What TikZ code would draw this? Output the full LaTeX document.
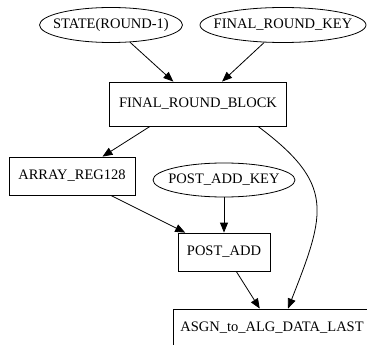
\documentclass[tikz,border=0pt]{standalone}
\usepackage{fontspec}
\setmainfont{Liberation Serif}
\usetikzlibrary{shapes.geometric,arrows.meta}

\begin{document}
\begin{tikzpicture}[x=1pt, y=-1pt, line width=0.8pt,
    >={Triangle[length=10pt, width=8pt]},
    every node/.style={font=\fontsize{14.5}{17}\selectfont, inner sep=0pt},
    oval/.style={draw, ellipse, minimum height=35pt},
    blk/.style={draw, rectangle, minimum height=38pt}]
  % page is cut at the bottom and right, like the reference
  \clip (0,0) rectangle (367,345);

  \node[oval, minimum width=143pt] (state) at (111, 25) {\makebox[0pt]{STATE(ROUND-1)}};
  \node[oval, minimum width=166pt] (frk) at (283, 25) {\makebox[0pt]{FINAL\_ROUND\_KEY}};
  \node[blk, minimum width=177pt, minimum height=44pt] (frb) at (198, 104) {FINAL\_ROUND\_BLOCK};

  \node[blk, minimum width=126pt] (arr) at (72, 176) {ARRAY\_REG128};
  \node[oval, minimum width=142pt, minimum height=34pt] (pak) at (224, 180) {\makebox[0pt]{POST\_ADD\_KEY}};
  \node[blk, minimum width=92pt] (padd) at (224, 252) {POST\_ADD};

  \node[blk, minimum width=198pt] (asgn) at (272, 328) {ASGN\_to\_ALG\_DATA\_LAST};

  \draw[->] (state) -- (frb);
  \draw[->] (frk) -- (frb);
  \draw[->] ([xshift=-48pt]frb.south) -- (arr);
  \draw[->] (arr) -- (padd);
  \draw[->] (pak) -- (padd);
  \draw[->] (padd) -- (asgn);
  \draw[->] ([xshift=60pt]frb.south) .. controls (335, 184) and (326, 212) .. ([xshift=16pt]asgn.north);
\end{tikzpicture}
\end{document}
